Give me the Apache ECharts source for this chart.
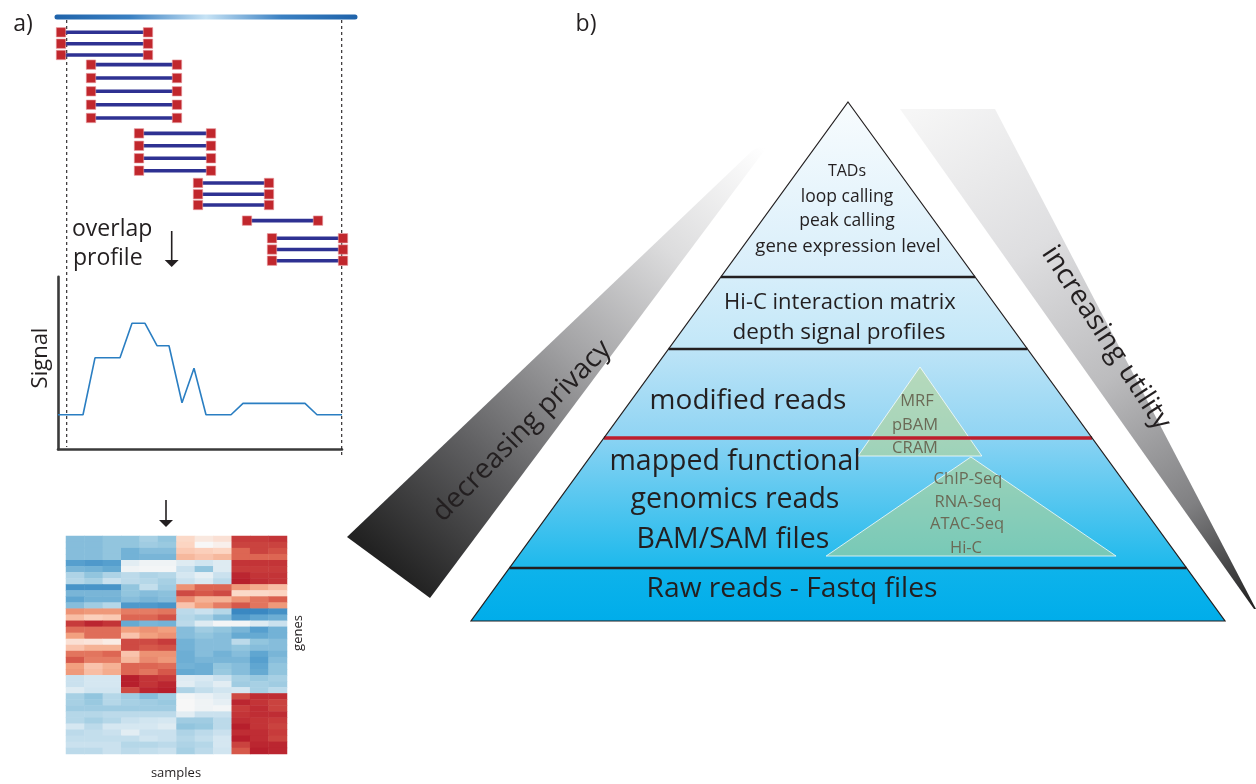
<!DOCTYPE html>
<html><head><meta charset="utf-8">
<script src="https://cdn.jsdelivr.net/npm/echarts@6/dist/echarts.min.js"></script>
<style>html,body{margin:0;padding:0;background:#fff}#c{width:1256px;height:784px}</style>
</head><body><div id="c"></div>
<script>
// ================= DATA =================
// panel a: reads along a genomic window (positions in window units)
const genomeSpan = [0, 302];
const regionBounds = [11.7, 286.7];
const readStarts = [6,6,6, 36,36,36,36,36, 84,84,84,84, 143,143,143, 192, 217,217,217];
const readEnds   = [93,93,93, 122,122,122,122,122, 156,156,156,156, 214,214,214, 263, 288,288,288];
const readLanes  = [0,0.92,1.83, 2.61,3.69,4.76,5.84,6.91, 8.15,9.15,10.16,11.16, 12.15,13.06,13.93, 15.19, 16.61,17.52,18.42];
const genomeLane = -1.23;
// overlap profile
const signalPos = [3,28,40,65,77,90,102,114,127,139,151,176,188,250,262,287];
const signalVal = [1,1,2.65,2.65,3.65,3.65,3,3,1.35,2.35,1,1,1.33,1.33,1,1];
// heatmap (rows = genes, cols = samples)
const sampleLabels = ['s1','s2','s3','s4','s5','s6','s7','s8','s9','s10','s11','s12'];
const expression = [
 [-2,-2,-1.8, -1.8,-1.5,-1.8, 0.8,0.4,0.6, 3.2,3.2,3.3],
 [-2,-2,-1.8, -1.8,-1.6,-1.7, 0.9,0,0.2, 3.1,3.1,3.1],
 [-2,-2,-1.8, -2.3,-2,-2, 1.1,1,0.9, 2.6,3.1,2.9],
 [-2,-2,-1.8, -2.3,-2.2,-2.2, 1.4,1.2,1.4, 2.6,2.6,2.6],
 [-2.8,-3,-2.8, -0.5,-0.2,-0.2, -0.6,-0.9,-0.6, 3.3,3.3,3.3],
 [-2.2,-2.3,-2.5, -0.2,-0.1,-0.1, -1,-1.8,-0.6, 3.2,3.2,3.2],
 [-1.4,-1.8,-1.4, -1.2,-1.4,-1.3, -0.8,-0.4,-1, 3.5,3.3,3.3],
 [-1.3,-1.5,-1, -1.2,-1.3,-1.5, -1,-0.7,-1.2, 3.6,3.4,3.3],
 [-3.2,-3.2,-3.2, -1.8,-1.1,-1.6, 2,2.6,2.6, 1.9,1.6,1.3],
 [-2.2,-2.2,-2.2, -1.8,-2,-1.9, 3,2.8,3, 0.8,0.8,0.9],
 [-2.6,-2.3,-2.3, -2,-2.2,-2, 2.1,1.5,1.5, 2,2.4,2.7],
 [-2,-1.6,-1.3, -3,-3,-3.2, 1.2,1.8,2.3, 2.8,2.4,1.9],
 [2,1.9,1.9, 2.3,2.3,2.4, -1.2,-1,-1.3, -3.6,-3.6,-3.3],
 [1.3,1,1.1, 2.6,2.6,2.9, -1.3,-1.5,-2, -3,-2.6,-2.4],
 [3.2,3.5,3.3, -2.5,-2.2,-2.3, -1.2,-0.6,-0.1, -0.1,-0.6,-1],
 [2.5,2.5,2.5, 1.8,2,1.8, -2,-1.6,-1.8, -2.2,-2.8,-2.3],
 [1.8,2.5,2.5, 1.2,1.8,2, -2,-1.8,-2, -2.5,-2.5,-2.3],
 [0.6,0.5,0.3, 3,3,3.2, -2.3,-2,-2, -1.2,-1.8,-2],
 [1.2,1.5,1.5, 3,2.8,2.9, -2.3,-2,-2, -1.8,-2,-2],
 [2.4,2.4,2.6, 1.2,2,2, -2.4,-2,-2.3, -2,-2.6,-2.2],
 [2.8,2.3,2.3, 1.4,2.1,1.9, -2.4,-2.2,-2.2, -2.2,-2.8,-2],
 [1.8,1.2,1.5, 2.6,2.6,2.5, -2.3,-2.4,-1.8, -2,-2.6,-1.8],
 [1.9,1.3,1.6, 2.6,2.4,2.8, -2.5,-2.4,-1.7, -2,-2.5,-1.8],
 [-1,-0.8,-0.8, 3.6,3.3,3.2, -0.6,-0.7,-1, -1.5,-1.7,-1.5],
 [-1,-0.8,-0.8, 3.6,3.3,3.5, -0.5,-0.9,-0.5, -1.6,-1.5,-1.6],
 [-0.6,-0.9,-0.9, 3,3.5,3.6, -1.4,-1.1,-0.9, -0.8,-1.5,-1.2],
 [-1.5,-1.8,-1.3, -1.6,-2,-1.6, -0.1,-0.3,-0.6, 3,3.4,3.4],
 [-1.5,-1.7,-1.3, -1.5,-1.6,-1.7, 0,-0.2,-0.4, 3.5,3.3,3.1],
 [-1.6,-1.6,-1.6, -1.6,-1.6,-1.6, 0,-0.2,-0.1, 3.2,3.4,3.1],
 [-1.3,-1.3,-1.2, -1.2,-1.2,-1.2, -0.5,-1,-1, 3.3,3.4,3.4],
 [-1.3,-1.5,-1.3, -1,-0.9,-0.8, -1.6,-1.6,-1.2, 3.4,3.3,3.2],
 [-0.8,-1.2,-0.8, -0.8,-0.8,-0.6, -1.8,-1.7,-1.2, 3.6,3.3,3.1],
 [-1.2,-1.1,-1, -0.5,-1,-1, -1.4,-1.2,-1, 3.4,3.4,3.2],
 [-1.1,-1.1,-1.1, -1.1,-0.9,-1, -1.3,-1.1,-0.8, 3.6,3.4,3.1],
 [-1,-1,-1, -1.3,-1.3,-1.2, -1.4,-1.3,-0.8, 3.1,3.5,3.5],
 [-1.2,-1.2,-1, -1.2,-1.1,-1, -1.5,-1.2,-0.9, 2.8,3.6,3.5]
];
const geneLabels = expression.map((r, i) => 'g' + (i + 1));
// panel b: pyramid layers (depth from apex, 0..100)
const layerTop    = [0, 33.72, 47.59, 64.74, 89.79];
const layerBottom = [33.72, 47.59, 64.74, 89.79, 100];
const layerLabels = [
  ['TADs','loop calling','peak calling','gene expression level'],
  ['Hi-C interaction matrix','depth signal profiles'],
  ['modified reads'],
  ['mapped functional','genomics reads','BAM/SAM files'],
  ['Raw reads - Fastq files']
];
const boundaryDepth = [33.72, 47.59, 64.74, 89.79];
// inner triangles: [apexX, apexDepth, baseLeftX, baseRightX, baseDepth]
const formatTriangles = [[0.191, 51.06, 0.0265, 0.355, 68.21], [0.326, 68.4, -0.058, 0.711, 87.48]];
const formatLabels = [['MRF','pBAM','CRAM'], ['ChIP-Seq','RNA-Seq','ATAC-Seq','Hi-C']];

// ================= STYLE =================
const FONT = '"Open Sans", "Noto Sans", sans-serif';
const INK = '#231f20';
const layerTopColor    = ['#f8fcfe','#d6eefa','#bde4f7','#8ad3f3','#0eb3eb'];
const layerBottomColor = ['#d8eefa','#c2e7f8','#90d4f3','#1db9ec','#00adea'];
const boundaryColor = [INK, INK, '#be1e2d', INK];
const boundaryWidth = [2.4, 2.4, 3.6, 2.4];

const chart = echarts.init(document.getElementById('c'), null, {renderer: 'canvas'});

const readData = readStarts.map((s, i) => [s, readEnds[i], readLanes[i]]);
const heatData = [];
expression.forEach((row, r) => row.forEach((v, c) => heatData.push([c, r, v])));

const option = {
  animation: false,
  backgroundColor: '#ffffff',
  grid: [
    {left: 55, top: 32.3, width: 302, height: 228.4, outerBoundsMode: 'none'},
    {left: 58, top: 276.7, width: 284, height: 172.6, outerBoundsMode: 'none'},
    {left: 66, top: 536, width: 221, height: 218, outerBoundsMode: 'none'},
    {left: 471, top: 102, width: 754, height: 519, outerBoundsMode: 'none'}
  ],
  xAxis: [
    {gridIndex: 0, type: 'value', min: genomeSpan[0], max: genomeSpan[1], show: false},
    {gridIndex: 1, type: 'value', min: 3, max: 287, axisLine: {show: true, onZero: false, lineStyle: {color: '#3a3a3a', width: 2.6}}, axisTick: {show: false}, axisLabel: {show: false}, splitLine: {show: false}},
    {gridIndex: 2, type: 'category', data: sampleLabels, show: false},
    {gridIndex: 3, type: 'value', min: -1, max: 1, show: false}
  ],
  yAxis: [
    {gridIndex: 0, type: 'value', min: 0, max: 18.42, inverse: true, show: false},
    {gridIndex: 1, type: 'value', min: 0, max: 5, axisLine: {show: true, onZero: false, lineStyle: {color: '#3a3a3a', width: 2.6}}, axisTick: {show: false}, axisLabel: {show: false}, splitLine: {show: false}},
    {gridIndex: 2, type: 'category', data: geneLabels, inverse: true, show: false},
    {gridIndex: 3, type: 'value', min: 0, max: 100, inverse: true, show: false}
  ],
  visualMap: {
    show: false, type: 'continuous', min: -3.6, max: 3.6, seriesIndex: 3, dimension: 2,
    inRange: {color: ['#3a88c2','#5aa2cf','#92c5de','#d1e5f0','#f7f7f7','#fcd5c2','#f2a07f','#da5f4e','#b71f2c']}
  },
  series: [
    // genome bar
    {type: 'custom', xAxisIndex: 0, yAxisIndex: 0, clip: false, silent: true,
     data: [[genomeSpan[0], genomeSpan[1], genomeLane]],
     renderItem: function (params, api) {
       const s = api.coord([api.value(0), api.value(2)]);
       const e = api.coord([api.value(1), api.value(2)]);
       return {type: 'line', shape: {x1: s[0] + 2, y1: s[1], x2: e[0] - 2, y2: e[1]},
         style: {stroke: new echarts.graphic.LinearGradient(s[0], 0, e[0], 0, [
           {offset: 0, color: '#1f63aa'}, {offset: 0.25, color: '#3a80c2'}, {offset: 0.5, color: '#c7e3f5'},
           {offset: 0.75, color: '#3a80c2'}, {offset: 1, color: '#1f63aa'}], true), lineWidth: 5, lineCap: 'round'}};
     }},
    // reads
    {type: 'custom', xAxisIndex: 0, yAxisIndex: 0, clip: false, silent: true, data: readData,
     renderItem: function (params, api) {
       const s = api.coord([api.value(0), api.value(2)]);
       const e = api.coord([api.value(1), api.value(2)]);
       const h = 4.7;
       return {type: 'group', children: [
         {type: 'line', shape: {x1: s[0], y1: s[1], x2: e[0], y2: e[1]}, style: {stroke: '#2e3192', lineWidth: 3.6}},
         {type: 'rect', shape: {x: s[0] - h, y: s[1] - h, width: 2 * h, height: 2 * h}, style: {fill: '#c1272d', stroke: '#e89aa0', lineWidth: 0.6}},
         {type: 'rect', shape: {x: e[0] - h, y: e[1] - h, width: 2 * h, height: 2 * h}, style: {fill: '#c1272d', stroke: '#e89aa0', lineWidth: 0.6}}
       ]};
     }},
    // overlap profile
    {type: 'line', xAxisIndex: 1, yAxisIndex: 1, symbol: 'none', silent: true,
     data: signalPos.map((x, i) => [x, signalVal[i]]),
     lineStyle: {color: '#2a7ec2', width: 1.6}},
    // heatmap
    {type: 'heatmap', xAxisIndex: 2, yAxisIndex: 2, data: heatData, silent: true,
     itemStyle: {borderWidth: 0}, emphasis: {disabled: true}},
    // pyramid layers
    {type: 'custom', xAxisIndex: 3, yAxisIndex: 3, clip: false, silent: true,
     data: layerTop.map((t, i) => [t, layerBottom[i]]),
     renderItem: function (params, api) {
       const i = params.dataIndex;
       const d0 = api.value(0), d1 = api.value(1);
       const p = [api.coord([-d0 / 100, d0]), api.coord([d0 / 100, d0]), api.coord([d1 / 100, d1]), api.coord([-d1 / 100, d1])];
       return {type: 'polygon', shape: {points: p},
         style: {fill: new echarts.graphic.LinearGradient(0, 0, 0, 1, [
           {offset: 0, color: layerTopColor[i]}, {offset: 1, color: layerBottomColor[i]}]), stroke: null, lineWidth: 0}};
     }},
    // inner format triangles
    {type: 'custom', xAxisIndex: 3, yAxisIndex: 3, clip: false, silent: true, z: 4,
     data: formatTriangles,
     renderItem: function (params, api) {
       const a = api.coord([api.value(0), api.value(1)]);
       const r = api.coord([api.value(3), api.value(4)]);
       const l = api.coord([api.value(2), api.value(4)]);
       return {type: 'polygon', shape: {points: [a, r, l]},
         style: {fill: 'rgba(184,212,140,0.56)', stroke: 'rgba(255,255,255,0.75)', lineWidth: 1}};
     }},
    // layer boundaries
    {type: 'custom', xAxisIndex: 3, yAxisIndex: 3, clip: false, silent: true, z: 5,
     data: boundaryDepth.map(d => [d]),
     renderItem: function (params, api) {
       const i = params.dataIndex;
       const d = api.value(0);
       const l = api.coord([-d / 100, d]), r = api.coord([d / 100, d]);
       return {type: 'line', shape: {x1: l[0], y1: l[1], x2: r[0], y2: r[1]},
         style: {stroke: boundaryColor[i], lineWidth: boundaryWidth[i]}};
     }},
    // pyramid outline
    {type: 'custom', xAxisIndex: 3, yAxisIndex: 3, clip: false, silent: true, z: 6,
     data: [[0, 100]],
     renderItem: function (params, api) {
       const top = api.value(0), bot = api.value(1);
       const p = [api.coord([0, top]), api.coord([bot / 100, bot]), api.coord([-bot / 100, bot])];
       return {type: 'polygon', shape: {points: p}, style: {fill: null, stroke: INK, lineWidth: 1.2}};
     }}
  ]
};
chart.setOption(option);

// ----- annotations -----
function T(text, x, y, size, o) {
  o = o || {};
  return {type: 'text', x: x, y: y, rotation: o.rot || 0, z: 20,
    style: {text: text, x: 0, y: 0, fill: o.color || INK, font: size + 'px ' + FONT,
      align: o.align || 'center', verticalAlign: 'middle'}};
}
const g = [];
// wedges
g.push({type: 'polygon', z: 0, shape: {points: [[347, 537], [753, 150], [770, 143], [430, 598]]},
  style: {fill: new echarts.graphic.LinearGradient(392, 568, 762, 146, [
    {offset: 0, color: '#222222'}, {offset: 0.25, color: '#5e5e60'}, {offset: 0.5, color: '#a2a2a4'},
    {offset: 0.75, color: '#dcdcdd'}, {offset: 1, color: '#ffffff'}], true)}});
g.push({type: 'polygon', z: 0, shape: {points: [[900, 109], [995, 109], [1256, 609], [1254, 609]]},
  style: {fill: new echarts.graphic.LinearGradient(930, 100, 1255, 607, [
    {offset: 0, color: '#f6f6f6'}, {offset: 0.3, color: '#dedee0'}, {offset: 0.55, color: '#bcbcbe'},
    {offset: 0.8, color: '#808082'}, {offset: 1, color: '#202020'}], true)}});
// dashed region bounds
const xl = chart.convertToPixel({xAxisIndex: 0}, regionBounds[0]);
const xr = chart.convertToPixel({xAxisIndex: 0}, regionBounds[1]);
g.push({type: 'line', z: 1, shape: {x1: xl, y1: 20, x2: xl, y2: 447}, style: {stroke: INK, lineWidth: 1.1, lineDash: [3, 3]}});
g.push({type: 'line', z: 1, shape: {x1: xr, y1: 20, x2: xr, y2: 457}, style: {stroke: INK, lineWidth: 1.1, lineDash: [3, 3]}});
// arrows
function arrow(x, y1, y2) {
  g.push({type: 'line', z: 20, shape: {x1: x, y1: y1, x2: x, y2: y2 - 4}, style: {stroke: INK, lineWidth: 1.6}});
  g.push({type: 'polygon', z: 20, shape: {points: [[x - 7, y2 - 7], [x + 7, y2 - 7], [x, y2]]}, style: {fill: INK}});
}
arrow(171.7, 231, 267);
arrow(166, 500, 527);
// panel labels
g.push(T('a)', 23, 24, 23));
g.push(T('b)', 586, 24, 23));
g.push(T('overlap', 72, 229, 23, {align: 'left'}));
g.push(T('profile', 73, 258, 23, {align: 'left'}));
g.push(T('Signal', 41, 358, 22, {rot: Math.PI / 2}));
g.push(T('genes', 298, 633, 13, {rot: Math.PI / 2}));
g.push(T('samples', 176, 773, 13));
// pyramid texts
const labelPos = [
  [[847, 171, 16], [847, 197, 17.5], [847, 221, 17.5], [848, 247, 18.5]],
  [[840, 303, 22], [839, 333, 22.5]],
  [[748, 401, 28]],
  [[735, 462, 28.5], [735, 500, 28.5], [733, 540, 28.5]],
  [[792, 589, 28.2]]
];
layerLabels.forEach((lines, i) => lines.forEach((t, j) => {
  const p = labelPos[i][j]; g.push(T(t, p[0], p[1], p[2]));
}));
const fmtPos = [[[917, 401], [915, 425], [915, 448]], [[968, 479], [968, 502], [967, 524], [966, 548]]];
formatLabels.forEach((lines, i) => lines.forEach((t, j) => {
  const p = fmtPos[i][j]; g.push(T(t, p[0], p[1], 16.5, {color: '#6b6a56'}));
}));
g.push(T('decreasing privacy', 522, 431, 28, {rot: 45.5 * Math.PI / 180}));
g.push(T('increasing utility', 1106, 338, 28, {rot: -57 * Math.PI / 180}));
chart.setOption({graphic: {elements: g}});
</script>
</body></html>
